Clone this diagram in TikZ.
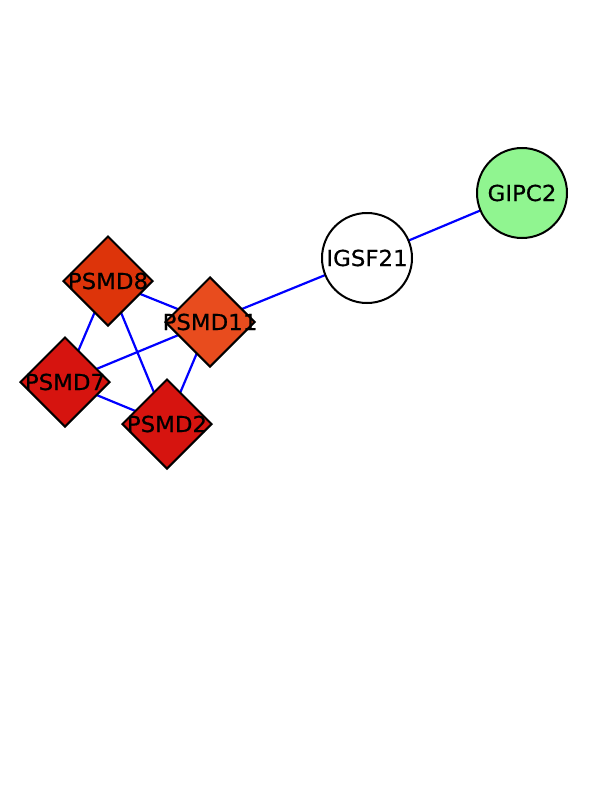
\documentclass[tikz,border=0pt]{standalone}
\usepackage{fontspec}
\newfontfamily\genefont[FakeStretch=1.04,FakeBold=0.6]{DejaVu Sans}
\usetikzlibrary{shapes.geometric,backgrounds}
\definecolor{psmdA}{RGB}{221,52,10}
\definecolor{psmdB}{RGB}{232,76,30}
\definecolor{psmdC}{RGB}{214,20,15}
\definecolor{gipc}{RGB}{144,245,144}
\tikzset{
  gene/.style={draw=black,line width=2pt,inner sep=0pt,
    label={[font=\genefont\fontsize{22}{22}\selectfont]center:#1}},
  box/.style={gene=#1,diamond,minimum width=90pt,minimum height=90pt},
  ball/.style={gene=#1,circle,minimum size=90pt},
  link/.style={draw=blue,line width=2.2pt}
}
\begin{document}
\begin{tikzpicture}[x=1pt,y=-1pt]
  \useasboundingbox (0,0) rectangle (612,792);
  \node[box=PSMD8,fill=psmdA] (psmd8) at (108,281) {};
  \node[box=PSMD11,fill=psmdB] (psmd11) at (210,322) {};
  \node[box=PSMD7,fill=psmdC] (psmd7) at (65,382) {};
  \node[box=PSMD2,fill=psmdC] (psmd2) at (167,424) {};
  \node[ball=IGSF21,fill=white] (igsf21) at (367,258) {};
  \node[ball=GIPC2,fill=gipc] (gipc2) at (522,193) {};
  \begin{scope}[on background layer]
    \draw[link] (psmd8.center) -- (psmd11.center);
    \draw[link] (psmd8.center) -- (psmd7.center);
    \draw[link] (psmd8.center) -- (psmd2.center);
    \draw[link] (psmd7.center) -- (psmd11.center);
    \draw[link] (psmd7.center) -- (psmd2.center);
    \draw[link] (psmd2.center) -- (psmd11.center);
    \draw[link] (psmd11.center) -- (igsf21.center);
    \draw[link] (igsf21.center) -- (gipc2.center);
  \end{scope}
\end{tikzpicture}
\end{document}
